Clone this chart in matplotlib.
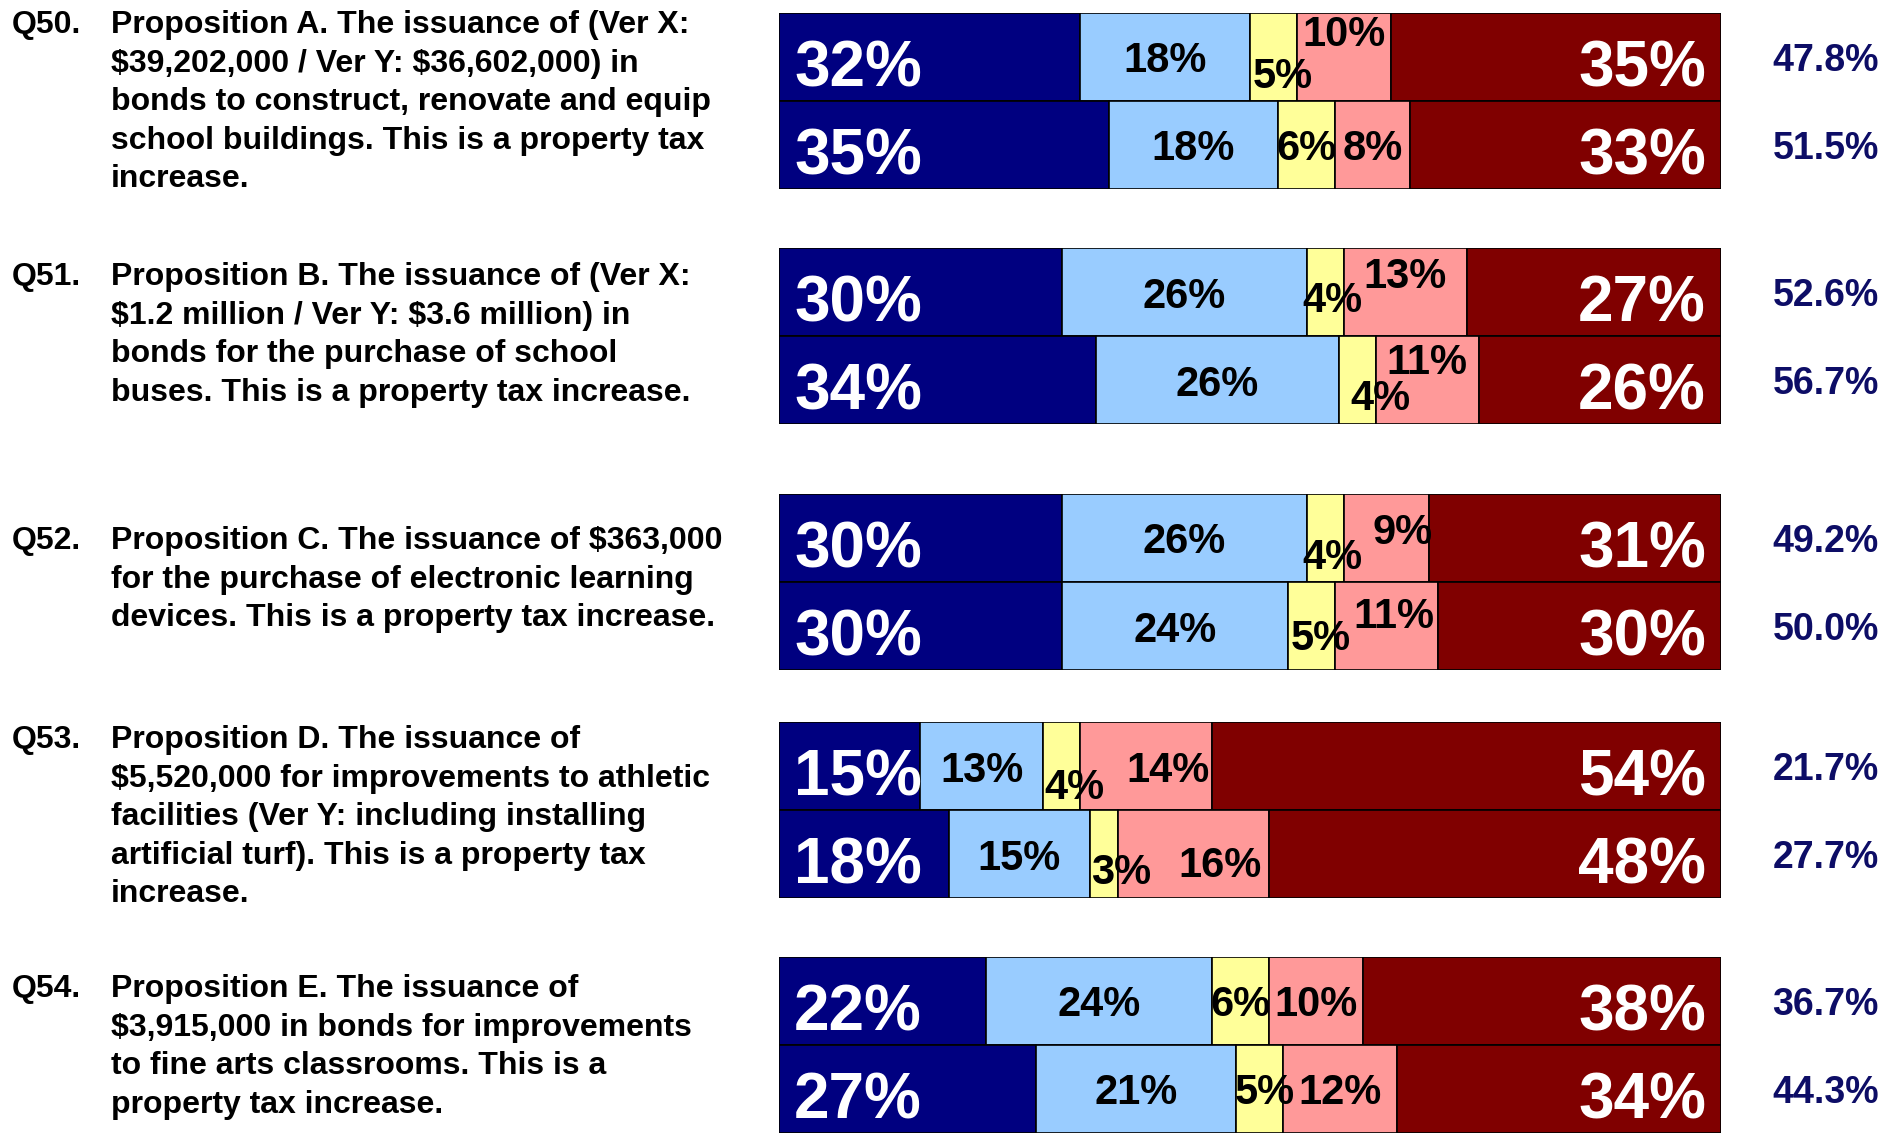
import matplotlib.pyplot as plt
import numpy as np

plt.rcParams['font.family'] = ['Liberation Sans', 'DejaVu Sans']
plt.rcParams['font.weight'] = 'bold'

question_ids = ["Q50.", "Q51.", "Q52.", "Q53.", "Q54."]
question_text = [
    "Proposition A. The issuance of (Ver X:\n$39,202,000 / Ver Y: $36,602,000) in\n"
    "bonds to construct, renovate and equip\nschool buildings. This is a property tax\nincrease.",
    "Proposition B. The issuance of (Ver X:\n$1.2 million / Ver Y: $3.6 million) in\n"
    "bonds for the purchase of school\nbuses. This is a property tax increase.",
    "Proposition C. The issuance of $363,000\nfor the purchase of electronic learning\n"
    "devices. This is a property tax increase.",
    "Proposition D. The issuance of\n$5,520,000 for improvements to athletic\n"
    "facilities (Ver Y: including installing\nartificial turf). This is a property tax\nincrease.",
    "Proposition E. The issuance of\n$3,915,000 in bonds for improvements\n"
    "to fine arts classrooms. This is a\nproperty tax increase.",
]

# two rows per question: Ver X then Ver Y
def_yes = [32, 35, 30, 34, 30, 30, 15, 18, 22, 27]
prob_yes = [18, 18, 26, 26, 26, 24, 13, 15, 24, 21]
undecided = [5, 6, 4, 4, 4, 5, 4, 3, 6, 5]
prob_no = [10, 8, 13, 11, 9, 11, 14, 16, 10, 12]
def_no = [35, 33, 27, 26, 31, 30, 54, 48, 38, 34]
support = [47.8, 51.5, 52.6, 56.7, 49.2, 50.0, 21.7, 27.7, 36.7, 44.3]

colors = ['#000080', '#99CCFF', '#FFFF99', '#FF9999', '#800000']

# hand nudges for the small yellow / pink labels (dx in %, dy in bar heights)
yellow_nudge = [(1, -0.18), (0, 0), (0.8, -0.05), (2.5, -0.16), (0.8, -0.18),
                (1, -0.1), (1.4, -0.2), (1.8, -0.16), (0, 0), (0.6, 0)]
pink_nudge = [(0, 0.30), (0, 0), (0, 0.22), (0, 0.25), (1.7, 0.11),
              (0.8, 0.15), (2.3, 0), (2.8, -0.08), (0, 0), (0, 0)]

W, H = 1900, 1133
fig = plt.figure(figsize=(19, 11.33), dpi=100)

group_top = [13, 248, 494, 722, 957]
text_base = [33, 285, 549, 748, 997]
line_step = 38.6
bar_h = 88
left_px, right_px = 779, 1721
big_drop = 0.065

for q in range(5):
    ax = fig.add_axes([left_px / W, 1 - (group_top[q] + 2 * bar_h) / H,
                       (right_px - left_px) / W, 2 * bar_h / H])
    ax.set_xlim(0, 100)
    ax.set_ylim(0, 2)
    ax.axis('off')

    for k, y in enumerate([1.5, 0.5]):
        i = 2 * q + k
        vals = np.array([def_yes[i], prob_yes[i], undecided[i], prob_no[i], def_no[i]], float)
        widths = vals / vals.sum() * 100
        lefts = np.concatenate([[0], np.cumsum(widths)[:-1]])
        ax.barh(y, widths, left=lefts, height=1.0, color=colors,
                edgecolor='black', linewidth=1.2)

        ax.text(lefts[0] + 1.6, y - big_drop, f"{def_yes[i]}%", ha='left',
                va='center_baseline', color='white', fontsize=46)
        ax.text(lefts[1] + widths[1] / 2, y, f"{prob_yes[i]}%", ha='center',
                va='center_baseline', color='black', fontsize=30)
        dx, dy = yellow_nudge[i]
        ax.text(lefts[2] + widths[2] / 2 + dx, y + dy, f"{undecided[i]}%", ha='center',
                va='center_baseline', color='black', fontsize=30)
        dx, dy = pink_nudge[i]
        ax.text(lefts[3] + widths[3] / 2 + dx, y + dy, f"{prob_no[i]}%", ha='center',
                va='center_baseline', color='black', fontsize=30)
        ax.text(100 - 1.6, y - big_drop, f"{def_no[i]}%", ha='right',
                va='center_baseline', color='white', fontsize=46)

        ax.text(1.111, y, f"{support[i]:.1f}%", transform=ax.get_yaxis_transform(),
                ha='center', va='center_baseline', color='#0D0D66', fontsize=27,
                clip_on=False)

    lines = question_text[q].split("\n")
    fig.text(12 / W, 1 - text_base[q] / H, question_ids[q], fontsize=23,
             va='baseline', ha='left', parse_math=False)
    for n, line in enumerate(lines):
        fig.text(111 / W, 1 - (text_base[q] + n * line_step) / H, line, fontsize=23,
                 va='baseline', ha='left', parse_math=False)

fig.savefig('out.png', dpi=100)
